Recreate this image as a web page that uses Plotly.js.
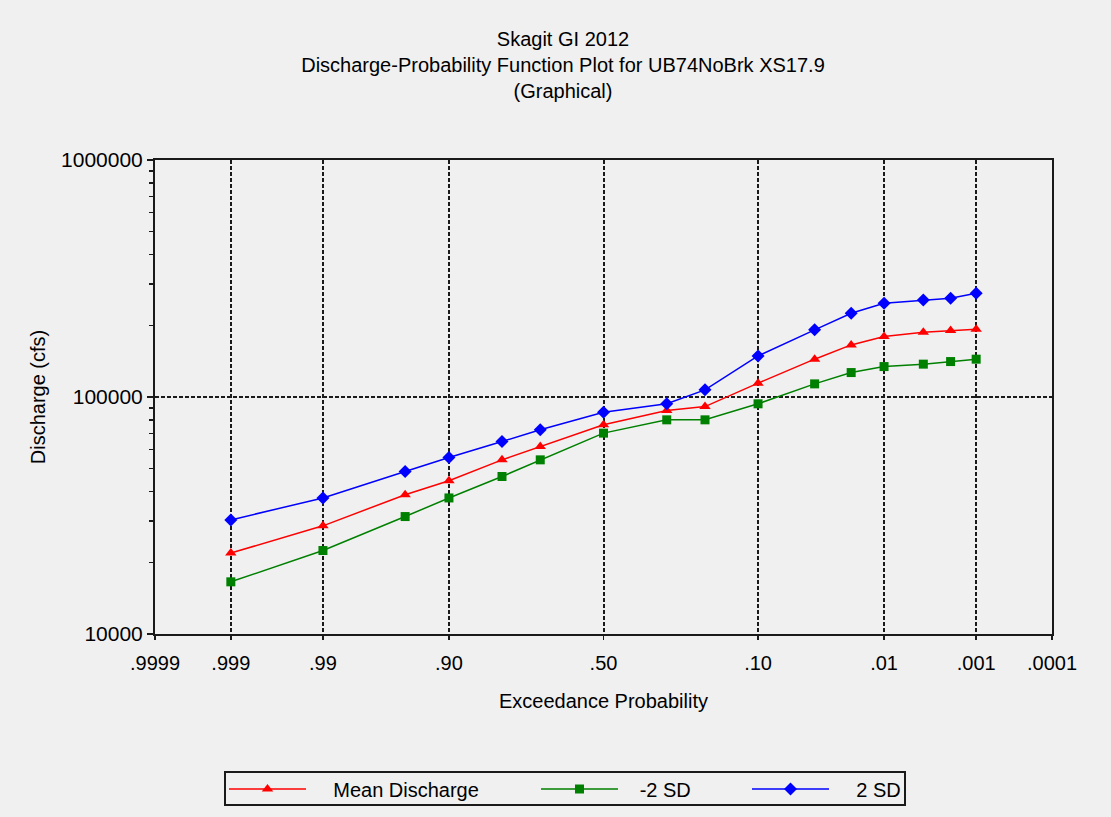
<!DOCTYPE html>
<html>
<head>
<meta charset="utf-8">
<script src="https://cdn.plot.ly/plotly-3.0.1.min.js"></script>
<style>
  html, body { margin: 0; padding: 0; background: #f0f0f0; }
  #chart { width: 1111px; height: 817px; }
</style>
</head>
<body>
<div id="chart"></div>
<script>
// Exceedance probabilities of the computed points
const probs = [0.999, 0.99, 0.95, 0.90, 0.80, 0.70, 0.50, 0.30, 0.20, 0.10, 0.04, 0.02, 0.01, 0.004, 0.002, 0.001];
// Discharge (cfs)
const meanDischarge = [21950, 28600, 38700, 44300, 54300, 61800, 76300, 87700, 91100, 114400, 144400, 165900, 179800, 187700, 190600, 193200];
const minus2SD = [16600, 22500, 31300, 37500, 46200, 54300, 70400, 80100, 80100, 93600, 113600, 126800, 134400, 137600, 141100, 144400];
const plus2SD = [30300, 37500, 48500, 55600, 64900, 72700, 86300, 93600, 107200, 149100, 192000, 225700, 248700, 256900, 261100, 274100];
// Series names
const seriesNames = ['Mean Discharge', '-2 SD', '2 SD'];
// Axis ticks
const xTickProbs = [0.9999, 0.999, 0.99, 0.90, 0.50, 0.10, 0.01, 0.001, 0.0001];
const xTickText = ['.9999', '.999', '.99', '.90', '.50', '.10', '.01', '.001', '.0001'];
const yTickVals = [10000, 100000, 1000000];
const yTickText = ['10000', '100000', '1000000'];

// Inverse standard normal CDF (Acklam) -> normal probability paper scale
function normInv(p) {
  const a = [-3.969683028665376e+01, 2.209460984245205e+02, -2.759285104469687e+02, 1.383577518672690e+02, -3.066479806614716e+01, 2.506628277459239e+00];
  const b = [-5.447609879822406e+01, 1.615858368580409e+02, -1.556989798598866e+02, 6.680131188771972e+01, -1.328068155288572e+01];
  const c = [-7.784894002430293e-03, -3.223964580411365e-01, -2.400758277161838e+00, -2.549671348733585e+00, 4.374664141464968e+00, 2.938163982698783e+00];
  const d = [7.784695709041462e-03, 3.224671290700398e-01, 2.445134137142996e+00, 3.754408661907416e+00];
  const pl = 0.02425, ph = 1 - pl;
  let q, r;
  if (p < pl) {
    q = Math.sqrt(-2 * Math.log(p));
    return (((((c[0]*q+c[1])*q+c[2])*q+c[3])*q+c[4])*q+c[5]) / ((((d[0]*q+d[1])*q+d[2])*q+d[3])*q+1);
  }
  if (p > ph) {
    q = Math.sqrt(-2 * Math.log(1 - p));
    return -(((((c[0]*q+c[1])*q+c[2])*q+c[3])*q+c[4])*q+c[5]) / ((((d[0]*q+d[1])*q+d[2])*q+d[3])*q+1);
  }
  q = p - 0.5; r = q * q;
  return (((((a[0]*r+a[1])*r+a[2])*r+a[3])*r+a[4])*r+a[5])*q / (((((b[0]*r+b[1])*r+b[2])*r+b[3])*r+b[4])*r+1);
}
const toX = p => normInv(1 - p);
const xs = probs.map(toX);

const FONT = 'Liberation Sans, Arial, sans-serif';
const pad = n => '\u00a0'.repeat(n);

const traces = [
  { x: xs, y: meanDischarge, name: pad(4) + seriesNames[0], type: 'scatter', mode: 'lines+markers',
    line: { color: '#ff0000', width: 1.5 }, marker: { symbol: 'triangle-up', size: 10, color: '#ff0000' },
    legend: 'legend' },
  { x: xs, y: minus2SD, name: pad(3) + seriesNames[1], type: 'scatter', mode: 'lines+markers',
    line: { color: '#008000', width: 1.5 }, marker: { symbol: 'square', size: 9, color: '#008000' },
    legend: 'legend2' },
  { x: xs, y: plus2SD, name: pad(4) + seriesNames[2], type: 'scatter', mode: 'lines+markers',
    line: { color: '#0000ff', width: 1.5 }, marker: { symbol: 'diamond', size: 10, color: '#0000ff' },
    legend: 'legend3' }
];

const legendBase = {
  orientation: 'h', xref: 'container', yref: 'container',
  xanchor: 'left', yanchor: 'middle', y: 1 - 789 / 817,
  bgcolor: 'rgba(0,0,0,0)', borderwidth: 0, itemwidth: 77,
  font: { family: FONT, size: 20, color: '#000' }
};

const layout = {
  width: 1111, height: 817,
  paper_bgcolor: '#f0f0f0', plot_bgcolor: '#f0f0f0',
  margin: { l: 155, r: 59, t: 160, b: 183, autoexpand: false },
  font: { family: FONT, size: 20, color: '#000' },
  title: {
    text: 'Skagit GI 2012<br>Discharge-Probability Function Plot for UB74NoBrk XS17.9<br>(Graphical)',
    x: 563 / 1111, xref: 'container', xanchor: 'center',
    y: 1 - 46 / 817, yref: 'container', yanchor: 'top',
    font: { family: FONT, size: 20, color: '#000' }
  },
  xaxis: {
    range: [toX(0.9999), toX(0.0001)],
    tickvals: xTickProbs.map(toX), ticktext: xTickText,
    showgrid: true, gridcolor: '#1a1a1a', gridwidth: 2, griddash: '4px,2px',
    showline: true, linecolor: '#1a1a1a', linewidth: 2, mirror: true,
    ticks: 'outside', ticklen: 4, tickwidth: 1.5, tickcolor: '#1a1a1a',
    ticklabelstandoff: 6,
    zeroline: false, tickfont: { family: FONT, size: 20, color: '#000' },
    title: { text: 'Exceedance Probability', standoff: 21, font: { family: FONT, size: 20, color: '#000' } }
  },
  yaxis: {
    type: 'log', range: [4, 6],
    tickvals: yTickVals, ticktext: yTickText,
    showgrid: true, gridcolor: '#1a1a1a', gridwidth: 2, griddash: '4px,2px',
    showline: true, linecolor: '#1a1a1a', linewidth: 2, mirror: true,
    ticks: 'outside', ticklen: 6, tickwidth: 1.5, tickcolor: '#1a1a1a',
    minor: { dtick: 'D1', ticks: 'outside', ticklen: 4, tickwidth: 1.5, tickcolor: '#1a1a1a', showgrid: false },
    zeroline: false, tickfont: { family: FONT, size: 21, color: '#000' },
    title: { text: 'Discharge (cfs)', standoff: 10, font: { family: FONT, size: 20, color: '#000' } }
  },
  legend: Object.assign({}, legendBase, { x: 224 / 1111 }),
  legend2: Object.assign({}, legendBase, { x: 536 / 1111 }),
  legend3: Object.assign({}, legendBase, { x: 747 / 1111 }),
  shapes: [
    { type: 'rect', xref: 'paper', yref: 'paper',
      x0: (225 - 155) / 897, x1: (905 - 155) / 897,
      y0: (634 - 772) / 474, y1: (634 - 805) / 474,
      line: { color: '#1a1a1a', width: 2 }, fillcolor: 'rgba(0,0,0,0)' }
  ],
  showlegend: true
};

Plotly.newPlot('chart', traces, layout, { displayModeBar: false, staticPlot: true });
</script>
</body>
</html>
